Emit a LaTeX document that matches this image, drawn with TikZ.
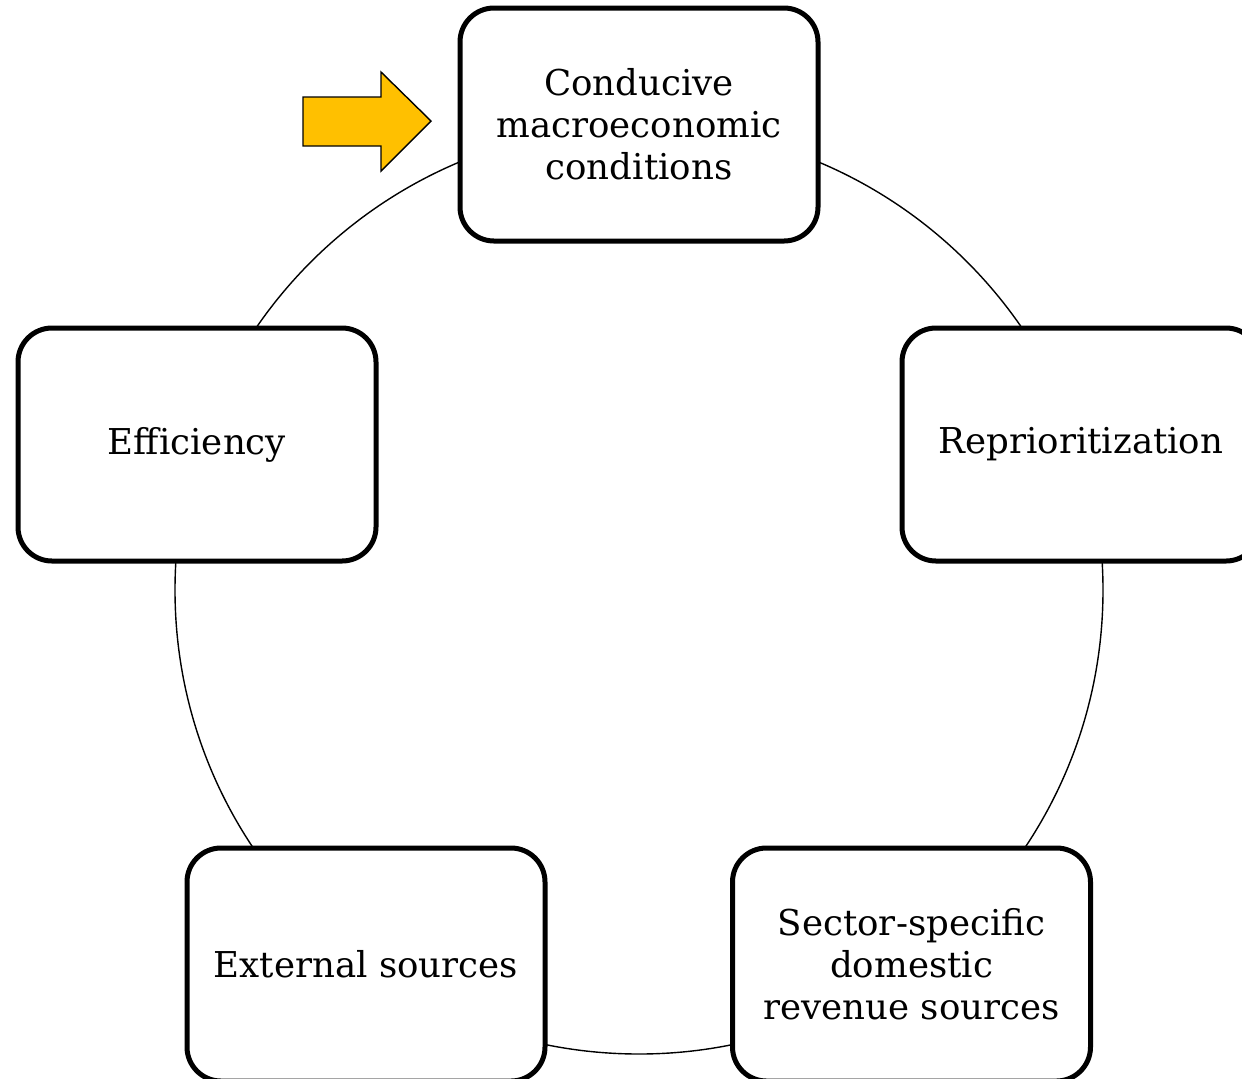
\documentclass[tikz,border=0pt]{standalone}
\usepackage{fontspec}
\setmainfont{DejaVu Serif}
\usetikzlibrary{positioning}
\definecolor{arrowgold}{RGB}{255,192,0}

\begin{document}
\begin{tikzpicture}[x=0.5pt,y=-0.5pt,
  pillar/.style={draw,line width=2.5pt,rounded corners=17pt,fill=white,
    minimum width=179pt,minimum height=116.5pt,align=center,inner sep=0pt,
    font=\fontsize{17.8}{21}\selectfont}]
  \useasboundingbox (0,0) rectangle (1242,1078);
  \clip (0,0) rectangle (1242,1078);
  % ring behind the boxes
  \coordinate (hub) at (639,590);
  \draw[line width=0.7pt] (hub) circle[radius=232pt];
  % the five boxes
  \node[pillar] (macro)  at (639,124.5)  {Conducive\\macroeconomic\\conditions};
  \node[pillar] (repri)  at (1081,444.5) {Reprioritization};
  \node[pillar] (sector) at (911.5,964.5) {Sector-specific\\domestic\\revenue sources};
  \node[pillar] (extern) at (366,964.5)  {External sources};
  \node[pillar] (effic)  at (197,444.5)  {Efficiency};
  % pointer arrow
  \filldraw[fill=arrowgold,draw=black,line width=0.7pt]
    (303,97) -- (381,97) -- (381,72) -- (431,121) -- (381,171) -- (381,146) -- (303,146) -- cycle;
\end{tikzpicture}
\end{document}
